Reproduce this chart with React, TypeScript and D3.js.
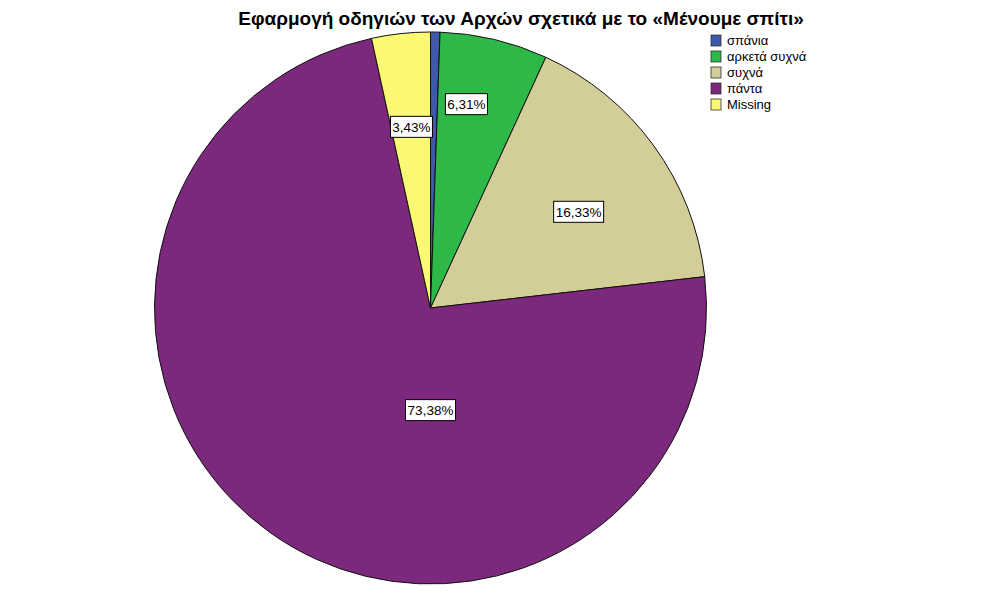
import React from "react";
import * as d3 from "d3";

const categories = ["σπάνια", "αρκετά συχνά", "συχνά", "πάντα", "Missing"];
const percents = [0.55, 6.31, 16.33, 73.38, 3.43];
const colors = ["#3E58AC", "#2EB848", "#D3CE97", "#7C287D", "#FBF873"];
const showLabel = [false, true, true, true, true];
// label placement (angle in degrees from 12 o'clock, fraction of radius)
const labelAngles = [0, 10, 57, 180, -6];
const labelRadii = [0, 0.75, 0.64, 0.37, 0.66];

const W = 984;
const H = 605;
const cx = 430.5;
const cy = 308;
const R = 276;

export default function App() {
  const pie = d3.pie<number>().sort(null).value((d) => d)(percents);
  const arc = d3.arc<d3.PieArcDatum<number>>().innerRadius(0).outerRadius(R);
  const fmt = (v: number) => v.toFixed(2).replace(".", ",") + "%";
  const boxH = 21;
  return (
    <svg width={W} height={H} style={{ position: "absolute", left: 0, top: 0, background: "#fff" }}
      fontFamily="Arial, 'Liberation Sans', sans-serif">
      <rect width={W} height={H} fill="#fff" />
      <text x={521} y={25} textAnchor="middle" fontSize={19} fontWeight="bold" fill="#000">
        Εφαρμογή οδηγιών των Αρχών σχετικά με το «Μένουμε σπίτι»
      </text>
      <g transform={`translate(${cx},${cy})`}>
        {pie.map((p, i) => (
          <path key={i} d={arc(p) || ""} fill={colors[i]} stroke="#111" strokeWidth={1} />
        ))}
        {pie.map((p, i) => {
          if (!showLabel[i]) return null;
          const a = (labelAngles[i] * Math.PI) / 180;
          const r = labelRadii[i] * R;
          const x = Math.sin(a) * r;
          const y = -Math.cos(a) * r;
          const boxW = percents[i] >= 10 ? 50 : 42;
          return (
            <g key={"l" + i} transform={`translate(${x},${y})`}>
              <rect x={-boxW / 2} y={-boxH / 2} width={boxW} height={boxH} fill="#fff" stroke="#000" strokeWidth={1} />
              <text x={0} y={5} textAnchor="middle" fontSize={13.5} fill="#000">
                {fmt(percents[i])}
              </text>
            </g>
          );
        })}
      </g>
      <g transform="translate(711,35)">
        {categories.map((c, i) => (
          <g key={c} transform={`translate(0,${i * 16})`}>
            <rect x={0} y={0} width={10} height={11} fill={colors[i]} stroke="#333" strokeWidth={0.8} />
            <text x={16} y={10} fontSize={13} fill="#000">{c}</text>
          </g>
        ))}
      </g>
    </svg>
  );
}
